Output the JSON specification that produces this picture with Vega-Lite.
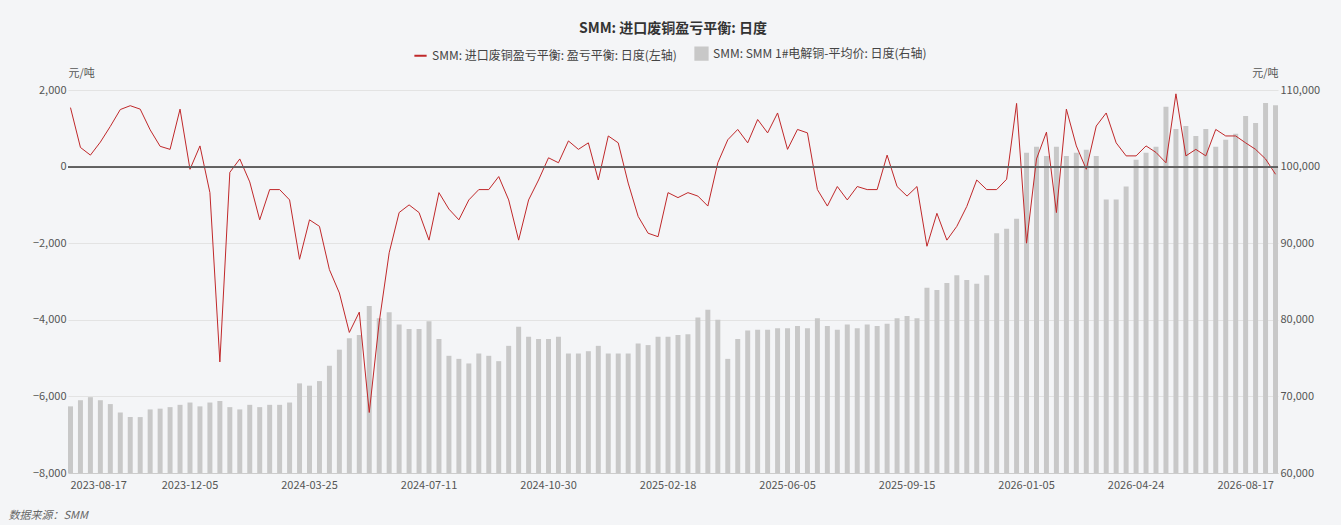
{
  "$schema": "https://vega.github.io/schema/vega-lite/v6.json",
  "width": 1210,
  "height": 383,
  "autosize": {"type": "none"},
  "padding": {"left": 68, "top": 90, "right": 63, "bottom": 52},
  "background": "#f4f5f7",
  "config": {
    "font": "Noto Sans CJK SC",
    "view": {"stroke": null},
    "axis": {"labelColor": "#555", "labelFontSize": 11, "titleColor": "#555", "titleFontSize": 11, "titleFontWeight": "normal"}
  },
  "title": {
    "text": "SMM: 进口废铜盈亏平衡: 日度",
    "fontSize": 14,
    "fontWeight": "bold",
    "color": "#333",
    "anchor": "middle",
    "offset": 10
  },
  "data": {
    "values": [
      {"d": "2023-08-17", "spread": 1540, "price": 68700},
      {"d": "2023-08-26", "spread": 500, "price": 69500},
      {"d": "2023-09-04", "spread": 300, "price": 69900},
      {"d": "2023-09-13", "spread": 640, "price": 69500},
      {"d": "2023-09-22", "spread": 1050, "price": 69000},
      {"d": "2023-10-01", "spread": 1490, "price": 67900},
      {"d": "2023-10-10", "spread": 1590, "price": 67300},
      {"d": "2023-10-19", "spread": 1500, "price": 67300},
      {"d": "2023-10-28", "spread": 960, "price": 68300},
      {"d": "2023-11-06", "spread": 530, "price": 68400},
      {"d": "2023-11-15", "spread": 450, "price": 68600},
      {"d": "2023-11-24", "spread": 1500, "price": 68900},
      {"d": "2023-12-05", "spread": -70, "price": 69200},
      {"d": "2023-12-14", "spread": 540, "price": 68700},
      {"d": "2023-12-23", "spread": -680, "price": 69200},
      {"d": "2024-01-02", "spread": -5100, "price": 69400},
      {"d": "2024-01-11", "spread": -150, "price": 68600},
      {"d": "2024-01-19", "spread": 200, "price": 68300},
      {"d": "2024-01-29", "spread": -400, "price": 68900},
      {"d": "2024-02-07", "spread": -1390, "price": 68600},
      {"d": "2024-02-19", "spread": -600, "price": 68900},
      {"d": "2024-02-28", "spread": -600, "price": 68900},
      {"d": "2024-03-07", "spread": -870, "price": 69200},
      {"d": "2024-03-15", "spread": -2420, "price": 71700},
      {"d": "2024-03-25", "spread": -1390, "price": 71400},
      {"d": "2024-04-03", "spread": -1560, "price": 72000},
      {"d": "2024-04-12", "spread": -2690, "price": 74000},
      {"d": "2024-04-22", "spread": -3300, "price": 76100},
      {"d": "2024-05-01", "spread": -4330, "price": 77600},
      {"d": "2024-05-10", "spread": -3800, "price": 78000},
      {"d": "2024-05-20", "spread": -6420, "price": 81800},
      {"d": "2024-05-29", "spread": -4060, "price": 80200},
      {"d": "2024-06-07", "spread": -2250, "price": 81000},
      {"d": "2024-06-17", "spread": -1200, "price": 79400},
      {"d": "2024-06-25", "spread": -1000, "price": 78800},
      {"d": "2024-07-03", "spread": -1200, "price": 78800},
      {"d": "2024-07-11", "spread": -1920, "price": 79800},
      {"d": "2024-07-20", "spread": -680, "price": 77500},
      {"d": "2024-07-29", "spread": -1110, "price": 75300},
      {"d": "2024-08-07", "spread": -1390, "price": 74900},
      {"d": "2024-08-16", "spread": -870, "price": 74300},
      {"d": "2024-08-26", "spread": -600, "price": 75600},
      {"d": "2024-09-04", "spread": -600, "price": 75300},
      {"d": "2024-09-13", "spread": -260, "price": 74600},
      {"d": "2024-09-23", "spread": -870, "price": 76600},
      {"d": "2024-10-02", "spread": -1920, "price": 79100},
      {"d": "2024-10-12", "spread": -870, "price": 77800},
      {"d": "2024-10-21", "spread": -350, "price": 77500},
      {"d": "2024-10-30", "spread": 230, "price": 77500},
      {"d": "2024-11-08", "spread": 100, "price": 77800},
      {"d": "2024-11-18", "spread": 670, "price": 75600},
      {"d": "2024-11-27", "spread": 450, "price": 75600},
      {"d": "2024-12-06", "spread": 620, "price": 75900},
      {"d": "2024-12-16", "spread": -350, "price": 76600},
      {"d": "2024-12-25", "spread": 800, "price": 75600},
      {"d": "2025-01-03", "spread": 620, "price": 75600},
      {"d": "2025-01-13", "spread": -430, "price": 75600},
      {"d": "2025-01-22", "spread": -1300, "price": 76900},
      {"d": "2025-01-31", "spread": -1740, "price": 76700},
      {"d": "2025-02-09", "spread": -1830, "price": 77800},
      {"d": "2025-02-18", "spread": -680, "price": 77800},
      {"d": "2025-02-27", "spread": -810, "price": 78000},
      {"d": "2025-03-08", "spread": -680, "price": 78100},
      {"d": "2025-03-17", "spread": -770, "price": 80300},
      {"d": "2025-03-26", "spread": -1030, "price": 81300},
      {"d": "2025-04-04", "spread": 100, "price": 80000},
      {"d": "2025-04-13", "spread": 700, "price": 74900},
      {"d": "2025-04-22", "spread": 970, "price": 77500},
      {"d": "2025-05-01", "spread": 620, "price": 78600},
      {"d": "2025-05-10", "spread": 1230, "price": 78700},
      {"d": "2025-05-19", "spread": 880, "price": 78700},
      {"d": "2025-05-28", "spread": 1400, "price": 78900},
      {"d": "2025-06-05", "spread": 450, "price": 78900},
      {"d": "2025-06-14", "spread": 970, "price": 79200},
      {"d": "2025-06-23", "spread": 880, "price": 78900},
      {"d": "2025-07-02", "spread": -600, "price": 80200},
      {"d": "2025-07-11", "spread": -1030, "price": 79200},
      {"d": "2025-07-20", "spread": -520, "price": 78700},
      {"d": "2025-07-29", "spread": -870, "price": 79400},
      {"d": "2025-08-07", "spread": -520, "price": 78900},
      {"d": "2025-08-16", "spread": -600, "price": 79400},
      {"d": "2025-08-25", "spread": -600, "price": 79200},
      {"d": "2025-09-01", "spread": 300, "price": 79500},
      {"d": "2025-09-08", "spread": -520, "price": 80200},
      {"d": "2025-09-15", "spread": -770, "price": 80500},
      {"d": "2025-09-24", "spread": -520, "price": 80200},
      {"d": "2025-10-03", "spread": -2080, "price": 84200},
      {"d": "2025-10-12", "spread": -1220, "price": 83900},
      {"d": "2025-10-21", "spread": -1920, "price": 84800},
      {"d": "2025-10-30", "spread": -1560, "price": 85800},
      {"d": "2025-11-08", "spread": -1040, "price": 85200},
      {"d": "2025-11-17", "spread": -350, "price": 84700},
      {"d": "2025-11-26", "spread": -600, "price": 85800},
      {"d": "2025-12-05", "spread": -600, "price": 91300},
      {"d": "2025-12-14", "spread": -330, "price": 91900},
      {"d": "2025-12-24", "spread": 1650, "price": 93200},
      {"d": "2026-01-05", "spread": -2000, "price": 101800},
      {"d": "2026-01-15", "spread": 200, "price": 102600},
      {"d": "2026-01-25", "spread": 900, "price": 101400},
      {"d": "2026-02-04", "spread": -1200, "price": 102600},
      {"d": "2026-02-14", "spread": 1500, "price": 101400},
      {"d": "2026-02-24", "spread": 540, "price": 101800},
      {"d": "2026-03-06", "spread": -70, "price": 102200},
      {"d": "2026-03-16", "spread": 1060, "price": 101400},
      {"d": "2026-03-26", "spread": 1400, "price": 95700},
      {"d": "2026-04-05", "spread": 620, "price": 95700},
      {"d": "2026-04-15", "spread": 280, "price": 97400},
      {"d": "2026-04-24", "spread": 280, "price": 100900},
      {"d": "2026-05-04", "spread": 540, "price": 101800},
      {"d": "2026-05-14", "spread": 370, "price": 102600},
      {"d": "2026-05-24", "spread": 100, "price": 107800},
      {"d": "2026-06-03", "spread": 1900, "price": 104900},
      {"d": "2026-06-13", "spread": 280, "price": 105300},
      {"d": "2026-06-23", "spread": 450, "price": 104000},
      {"d": "2026-07-03", "spread": 280, "price": 104900},
      {"d": "2026-07-13", "spread": 970, "price": 102600},
      {"d": "2026-07-23", "spread": 800, "price": 103500},
      {"d": "2026-08-03", "spread": 800, "price": 104300},
      {"d": "2026-08-17", "spread": 620, "price": 106600},
      {"d": "2026-08-24", "spread": 450, "price": 105700},
      {"d": "2026-08-31", "spread": 200, "price": 108300},
      {"d": "2026-09-07", "spread": -200, "price": 108000}
    ]
  },
  "encoding": {
    "x": {
      "field": "d",
      "type": "ordinal",
      "sort": null,
      "scale": {"type": "band", "paddingInner": 0.5, "paddingOuter": 0},
      "axis": {
        "values": ["2023-08-17", "2023-12-05", "2024-03-25", "2024-07-11", "2024-10-30", "2025-02-18", "2025-06-05", "2025-09-15", "2026-01-05", "2026-04-24", "2026-08-17"],
        "labelAngle": 0,
        "labelOverlap": false,
        "labelFlush": true,
        "ticks": false,
        "domainColor": "#ccc",
        "labelPadding": 6,
        "title": "数据来源：SMM",
        "titleFontStyle": "italic",
        "titleColor": "#666",
        "titleAnchor": "start",
        "titleAlign": "left",
        "titleX": -60,
        "titleY": 36
      }
    },
    "color": {
      "type": "nominal",
      "scale": {
        "domain": ["SMM: 进口废铜盈亏平衡: 盈亏平衡: 日度(左轴)", "SMM: SMM 1#电解铜-平均价: 日度(右轴)"],
        "range": ["#c0282a", "#c8c8c8"]
      },
      "legend": {
        "orient": "none",
        "legendX": 345,
        "legendY": -44,
        "direction": "horizontal",
        "title": null,
        "labelFontSize": 12,
        "labelColor": "#444",
        "columnPadding": 14,
        "symbolSize": 150,
        "labelLimit": 400,
        "encode": {
          "symbols": {
            "update": {
              "shape": {"signal": "datum.value == 'SMM: 进口废铜盈亏平衡: 盈亏平衡: 日度(左轴)' ? 'stroke' : 'square'"},
              "strokeWidth": {"value": 2}
            }
          }
        }
      }
    }
  },
  "layer": [
    {
      "mark": {"type": "bar", "color": "#cdcdcd"},
      "encoding": {
        "color": {"datum": "SMM: SMM 1#电解铜-平均价: 日度(右轴)"},
        "y": {
          "field": "price",
          "type": "quantitative",
          "scale": {"domain": [60000, 110000], "zero": false, "nice": false},
          "axis": {
            "orient": "right",
            "values": [60000, 70000, 80000, 90000, 100000, 110000],
            "format": ",d",
            "grid": false,
            "ticks": false,
            "domain": false,
            "title": "元/吨",
            "titleAngle": 0,
            "titleAlign": "right",
            "titleBaseline": "bottom",
            "titleX": 0,
            "titleY": -12
          }
        },
        "y2": {"datum": 60000}
      }
    },
    {
      "mark": {"type": "line", "strokeWidth": 1},
      "encoding": {
        "color": {"datum": "SMM: 进口废铜盈亏平衡: 盈亏平衡: 日度(左轴)"},
        "y": {
          "field": "spread",
          "type": "quantitative",
          "scale": {"domain": [-8000, 2000], "nice": false},
          "axis": {
            "orient": "left",
            "values": [-8000, -6000, -4000, -2000, 0, 2000],
            "format": ",d",
            "grid": true,
            "gridColor": "#e3e3e3",
            "ticks": false,
            "domain": false,
            "title": "元/吨",
            "titleAngle": 0,
            "titleAlign": "left",
            "titleBaseline": "bottom",
            "titleX": 0,
            "titleY": -12
          }
        }
      }
    },
    {
      "mark": {"type": "rule", "color": "#666", "strokeWidth": 1},
      "encoding": {
        "y": {"datum": 0, "scale": {"domain": [-8000, 2000], "nice": false}, "axis": null},
        "color": {"value": "#666"},
        "x": {"value": 0},
        "x2": {"value": 1210}
      }
    }
  ],
  "resolve": {"scale": {"y": "independent"}}
}
